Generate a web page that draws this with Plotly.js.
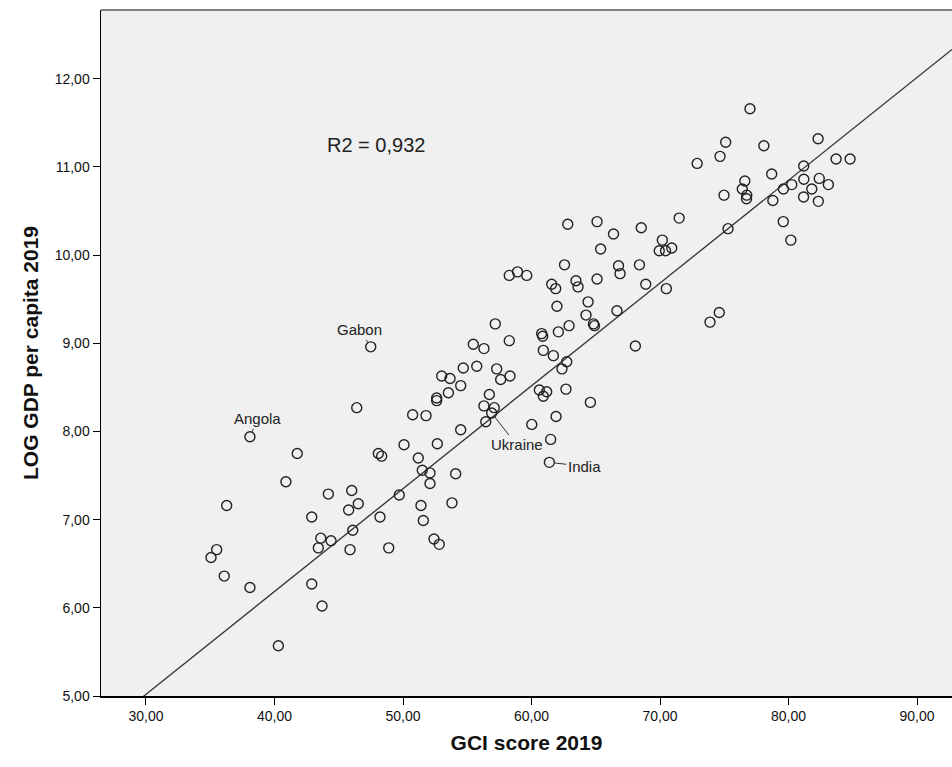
<!DOCTYPE html>
<html>
<head>
<meta charset="utf-8">
<script src="https://cdn.plot.ly/plotly-3.0.1.min.js"></script>
<style>
  html, body { margin: 0; padding: 0; background: #ffffff; }
  #chart { width: 952px; height: 767px; }
</style>
</head>
<body>
<div id="chart"></div>
<script>
// GCI score 2019 (x) and LOG GDP per capita 2019 (y)
const gciScore = [
  35.06, 35.50, 36.09, 36.28, 38.09, 38.09, 40.30, 40.89, 41.77, 42.90,
  42.90, 43.41, 43.60, 43.70, 44.19, 44.40, 45.77, 45.88, 46.01, 46.09,
  46.40, 46.52, 47.49, 48.08, 48.34, 48.21, 48.89, 49.71, 50.08, 50.75,
  51.19, 51.40, 51.50, 51.58, 51.79, 52.10, 52.10, 52.41, 52.82, 52.62,
  52.62, 52.67, 53.01, 53.53, 53.66, 53.81, 54.10, 54.49, 54.49, 54.69,
  55.47, 55.74, 56.30, 56.30, 56.44, 56.72, 56.90, 57.10, 57.18, 57.29,
  57.60, 58.27, 58.33, 58.27, 58.91, 59.63, 60.02, 60.61, 60.92, 61.18,
  61.39, 61.49, 61.91, 62.68, 64.58, 60.79, 60.87, 60.92, 61.70, 62.09,
  62.37, 62.74, 62.92, 61.57, 61.88, 61.98, 62.57, 62.82, 63.46, 63.62,
  64.24, 64.40, 64.82, 64.90, 65.10, 65.10, 65.38, 66.38, 66.65, 66.77,
  66.89, 68.08, 68.40, 68.54, 68.89, 69.94, 70.18, 70.43, 70.91, 70.49,
  71.49, 72.89, 73.89, 74.61, 74.67, 74.98, 75.11, 75.29, 76.40, 76.60,
  76.75, 76.73, 77.00, 78.08, 78.69, 78.78, 79.60, 79.59, 80.18, 80.25,
  81.18, 81.19, 81.17, 81.81, 82.30, 82.39, 82.32, 83.10, 83.70, 84.79
];
const logGdp = [
  6.57, 6.66, 6.36, 7.16, 6.23, 7.94, 5.57, 7.43, 7.75, 7.03,
  6.27, 6.68, 6.79, 6.02, 7.29, 6.76, 7.11, 6.66, 7.33, 6.88,
  8.27, 7.18, 8.96, 7.75, 7.72, 7.03, 6.68, 7.28, 7.85, 8.19,
  7.70, 7.16, 7.56, 6.99, 8.18, 7.53, 7.41, 6.78, 6.72, 8.38,
  8.35, 7.86, 8.63, 8.44, 8.60, 7.19, 7.52, 8.52, 8.02, 8.72,
  8.99, 8.74, 8.94, 8.29, 8.11, 8.42, 8.21, 8.27, 9.22, 8.71,
  8.59, 9.03, 8.63, 9.77, 9.81, 9.77, 8.08, 8.47, 8.40, 8.45,
  7.65, 7.91, 8.17, 8.48, 8.33, 9.11, 9.08, 8.92, 8.86, 9.13,
  8.71, 8.79, 9.20, 9.67, 9.62, 9.42, 9.89, 10.35, 9.71, 9.64,
  9.32, 9.47, 9.22, 9.20, 9.73, 10.38, 10.07, 10.24, 9.37, 9.88,
  9.79, 8.97, 9.89, 10.31, 9.67, 10.05, 10.17, 10.05, 10.08, 9.62,
  10.42, 11.04, 9.24, 9.35, 11.12, 10.68, 11.28, 10.30, 10.75, 10.84,
  10.68, 10.64, 11.66, 11.24, 10.92, 10.62, 10.75, 10.38, 10.17, 10.80,
  11.01, 10.86, 10.66, 10.75, 11.32, 10.87, 10.61, 10.80, 11.09, 11.09
];

// labelled countries: name and index into the arrays above
const labelNames   = ["Angola", "Gabon", "Ukraine", "India"];
const labelIndex   = [5, 22, 56, 70];

// linear fit
const fitSlope = 0.1166;
const fitIntercept = 1.521;
const rSquaredText = "R2 = 0,932";

// axis settings
const xRange = [26.5, 92.72];
const yRange = [5, 12.78];
const xTitle = "GCI score 2019";
const yTitle = "LOG GDP per capita 2019";

const fitX = [xRange[0], xRange[1]];
const fitY = fitX.map(v => fitSlope * v + fitIntercept);

const fontFam = "Liberation Sans, Arial, sans-serif";

// label offsets in pixels (text position relative to the point)
const labelOffsets = [[8, -18], [-11, -17], [25, 32], [35, 4]];

const annotations = labelNames.map((n, i) => ({
  x: gciScore[labelIndex[i]],
  y: logGdp[labelIndex[i]],
  xref: "x", yref: "y",
  text: n,
  showarrow: true,
  arrowhead: 0,
  arrowwidth: 1,
  arrowcolor: "#333",
  ax: labelOffsets[i][0],
  ay: labelOffsets[i][1],
  standoff: 5,
  font: {family: fontFam, size: 15, color: "#222"}
}));
annotations.push({
  x: 0.3231, y: 0.8032, xref: "paper", yref: "paper",
  xanchor: "center", yanchor: "middle",
  text: rSquaredText, showarrow: false,
  font: {family: fontFam, size: 20, color: "#222"}
});

const traces = [
  {
    x: fitX, y: fitY, type: "scatter", mode: "lines",
    line: {color: "#333", width: 1.3},
    hoverinfo: "skip"
  },
  {
    x: gciScore, y: logGdp, type: "scatter", mode: "markers",
    marker: {symbol: "circle-open", size: 10, color: "#222", line: {width: 1.4, color: "#222"}},
    cliponaxis: false
  }
];

const layout = {
  width: 952, height: 767,
  margin: {l: 101, r: 0, t: 10, b: 71},
  paper_bgcolor: "#ffffff",
  plot_bgcolor: "#f0f0f0",
  showlegend: false,
  separators: ",.",
  font: {family: fontFam, color: "#000"},
  xaxis: {
    range: xRange,
    tick0: 30, dtick: 10, tickformat: ".2f",
    ticks: "outside", ticklen: 7, tickcolor: "#000", tickwidth: 1,
    showgrid: false, zeroline: false,
    showline: true, linecolor: "#000", linewidth: 1.5,
    tickfont: {family: fontFam, size: 14, color: "#111"},
    title: {text: xTitle, standoff: 12, font: {family: fontFam, size: 21, color: "#111", weight: "bold"}}
  },
  yaxis: {
    range: yRange,
    tick0: 5, dtick: 1, tickformat: ".2f",
    ticks: "outside", ticklen: 7, tickcolor: "#000", tickwidth: 1,
    showgrid: false, zeroline: false,
    showline: true, linecolor: "#000", linewidth: 1.5,
    tickfont: {family: fontFam, size: 14, color: "#111"},
    title: {text: yTitle, standoff: 10, font: {family: fontFam, size: 21, color: "#111", weight: "bold"}}
  },
  shapes: [{
    type: "line", xref: "paper", yref: "paper",
    x0: 0, x1: 1, y0: 1, y1: 1,
    line: {color: "#808080", width: 2}
  }],
  annotations: annotations
};

Plotly.newPlot("chart", traces, layout, {staticPlot: true, displayModeBar: false});
</script>
</body>
</html>
